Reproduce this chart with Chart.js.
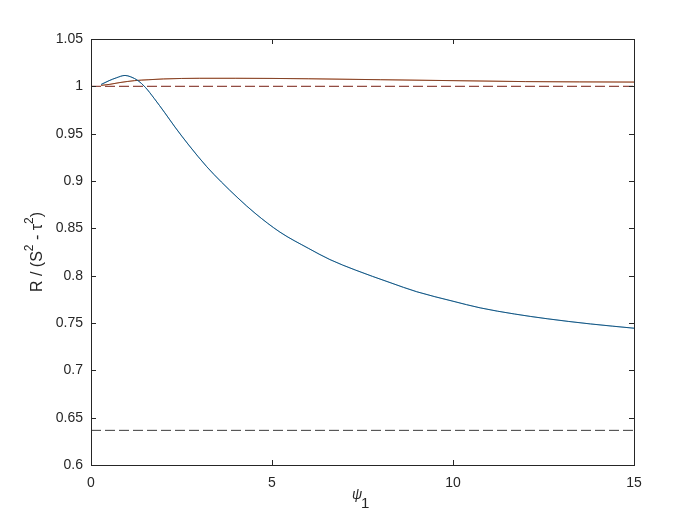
<!DOCTYPE html>
<html>
<head>
<meta charset="utf-8">
<script src="https://cdn.jsdelivr.net/npm/chart.js@4"></script>
<style>
  html, body { margin: 0; padding: 0; background: #fff; }
  #wrap { width: 700px; height: 525px; }
</style>
</head>
<body>
<div id="wrap"><canvas id="chart" width="700" height="525"></canvas></div>
<script>
// data
const blueX = [0.28, 0.5, 0.7, 0.94, 1.1, 1.3, 1.5, 1.75, 2.04, 2.32, 2.7, 3.2, 3.6, 4.06, 4.53, 5.22, 6.0, 6.6, 7.3, 8.26, 9.0, 10.0, 10.75, 11.7, 12.6, 13.8, 15.0];
const blueY = [1.002, 1.006, 1.009, 1.0115, 1.010, 1.006, 0.999, 0.987, 0.972, 0.957, 0.938, 0.915, 0.899, 0.882, 0.866, 0.846, 0.829, 0.817, 0.806, 0.7927, 0.783, 0.773, 0.766, 0.7595, 0.7545, 0.749, 0.7445];

const orangeX = [0.28, 0.5, 0.8, 1.2, 1.6, 2.0, 3.0, 4.0, 6.0, 8.0, 10.0, 12.0, 15.0];
const orangeY = [1.001, 1.002, 1.004, 1.006, 1.007, 1.0078, 1.0085, 1.0085, 1.008, 1.007, 1.006, 1.005, 1.0045];

const refX = [0, 15];
const refTop = [1, 1];
const refBottom = [0.6366, 0.6366];

const xTicks = [0, 5, 10, 15];
const yMin = 0.6, yMax = 1.05, yStep = 0.05;

const FONT = '"Liberation Sans", Arial, Helvetica, sans-serif';
const AXIS = "#262626";

function pts(xs, ys) {
  return xs.map((x, i) => ({ x: x, y: ys[i] }));
}

// box + inward ticks on all four sides
const boxPlugin = {
  id: "box",
  afterDatasetsDraw(chart) {
    const { ctx, chartArea: a, scales } = chart;
    ctx.save();
    ctx.strokeStyle = AXIS;
    ctx.lineWidth = 1;
    ctx.strokeRect(Math.round(a.left) + 0.5, Math.round(a.top) + 0.5,
      Math.round(a.right - a.left), Math.round(a.bottom - a.top));
    const tl = 5;
    ctx.beginPath();
    scales.x.ticks.forEach((t) => {
      const px = Math.round(scales.x.getPixelForValue(t.value)) + 0.5;
      ctx.moveTo(px, a.bottom); ctx.lineTo(px, a.bottom - tl);
      ctx.moveTo(px, a.top); ctx.lineTo(px, a.top + tl);
    });
    scales.y.ticks.forEach((t) => {
      const py = Math.round(scales.y.getPixelForValue(t.value)) + 0.5;
      ctx.moveTo(a.left, py); ctx.lineTo(a.left + tl, py);
      ctx.moveTo(a.right, py); ctx.lineTo(a.right - tl, py);
    });
    ctx.stroke();
    ctx.restore();
  },
  afterDraw(chart) {
    const { ctx, chartArea: a } = chart;
    ctx.save();
    ctx.fillStyle = AXIS;
    ctx.textBaseline = "alphabetic";

    // y label: R / (S^2 - tau^2)
    const parts = [
      ["R / (S", 16, 0],
      ["2", 12, 9],
      [" - ", 16, 0],
      ["\u03C4", 16, 0],
      ["2", 12, 9],
      [")", 16, 0],
    ];
    let total = 0;
    parts.forEach((p) => { ctx.font = p[1] + "px " + FONT; total += ctx.measureText(p[0]).width; });
    ctx.translate(42, (a.top + a.bottom) / 2);
    ctx.rotate(-Math.PI / 2);
    let cx = -total / 2;
    parts.forEach((p) => {
      ctx.font = p[1] + "px " + FONT;
      ctx.fillText(p[0], cx, -p[2]);
      cx += ctx.measureText(p[0]).width;
    });
    ctx.setTransform(1, 0, 0, 1, 0, 0);

    // x label: psi_1
    ctx.font = "italic 14px " + FONT;
    ctx.fillText("\u03C8", 352, 499);
    ctx.font = "15px " + FONT;
    ctx.fillText("1", 361, 508);
    ctx.restore();
  },
};

const ctx = document.getElementById("chart").getContext("2d");
new Chart(ctx, {
  type: "line",
  data: {
    datasets: [
      // lower "order" is drawn on top
      { order: 7, data: pts(refX, refTop), borderColor: "#e0402a", borderWidth: 1, borderDash: [10, 4] },
      { order: 6, data: pts(refX, refTop), borderColor: "rgba(60,60,60,0.6)", borderWidth: 1, borderDash: [10, 4] },
      { order: 5, data: pts(refX, refBottom), borderColor: "#3a3a3a", borderWidth: 1, borderDash: [10, 4] },
      { order: 4, data: pts(orangeX, orangeY), borderColor: "#D95319", borderWidth: 1, cubicInterpolationMode: "monotone" },
      { order: 3, data: pts(orangeX, orangeY), borderColor: "rgba(50,50,50,0.65)", borderWidth: 0.8, cubicInterpolationMode: "monotone" },
      { order: 2, data: pts(blueX, blueY), borderColor: "#0072BD", borderWidth: 1, cubicInterpolationMode: "monotone" },
      { order: 1, data: pts(blueX, blueY), borderColor: "rgba(50,50,50,0.55)", borderWidth: 0.8, cubicInterpolationMode: "monotone" },
    ],
  },
  options: {
    responsive: false,
    animation: false,
    events: [],
    layout: { padding: { left: 0, top: 39, right: 66, bottom: 0 } },
    elements: { point: { radius: 0 } },
    plugins: { legend: { display: false }, tooltip: { enabled: false } },
    scales: {
      x: {
        type: "linear",
        min: 0,
        max: 15,
        afterBuildTicks: (s) => { s.ticks = xTicks.map((v) => ({ value: v })); },
        afterFit: (s) => { s.height = 60; },
        grid: { display: false, drawTicks: false },
        border: { display: false },
        ticks: { color: AXIS, padding: 10, font: { family: FONT, size: 14 } },
      },
      y: {
        type: "linear",
        min: yMin,
        max: yMax,
        afterFit: (s) => { s.width = 91; },
        grid: { display: false, drawTicks: false },
        border: { display: false },
        ticks: {
          stepSize: yStep,
          color: AXIS,
          padding: 8,
          font: { family: FONT, size: 14 },
          callback: (v) => String(Number(v.toFixed(2))),
        },
      },
    },
  },
  plugins: [boxPlugin],
});
</script>
</body>
</html>
